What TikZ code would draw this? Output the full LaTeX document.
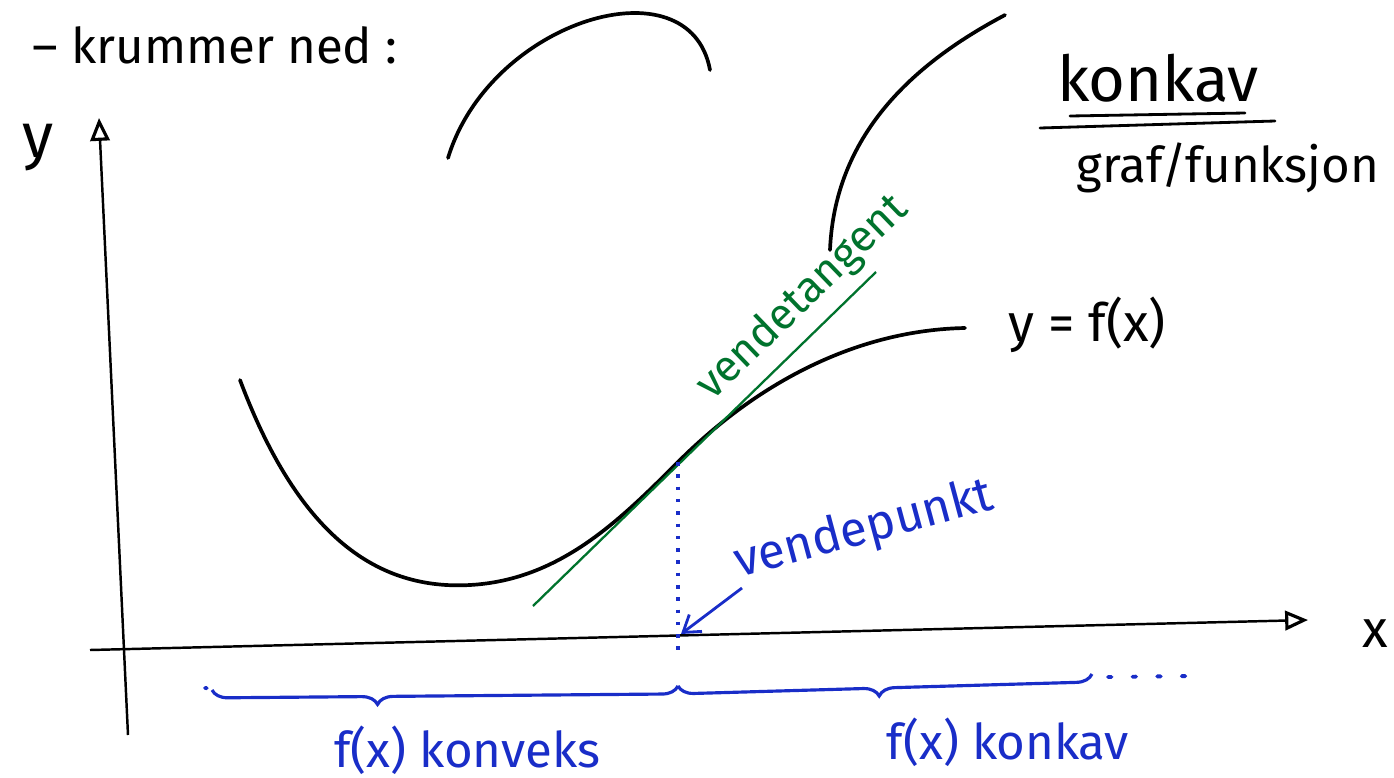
\documentclass[tikz,border=0pt]{standalone}
\usepackage{fontspec}
\setmainfont{Fira Sans}
\usetikzlibrary{arrows.meta,decorations.pathreplacing,calc}
\definecolor{penblue}{RGB}{25,45,200}
\definecolor{pengreen}{RGB}{0,115,45}
\begin{document}
\begin{tikzpicture}[x=0.02cm,y=-0.02cm,
  hand/.style={font=\fontsize{28}{32}\selectfont, inner sep=0pt},
  curve/.style={line width=2.1pt, line cap=round},
  axis/.style={line width=1.4pt, -{Triangle[open,length=13pt,width=11pt,line width=1.8pt]}},
  bluetext/.style={hand, text=penblue},
  greentext/.style={hand, text=pengreen},
  bracestyle/.style={penblue, line width=1.8pt, decorate}]
\useasboundingbox (0,0) rectangle (1394,778);
\fill[white] (0,0) rectangle (1394,778);

% texts
\node[hand] (title) at (215,45) {– krummer ned :};
\node[hand, font=\fontsize{36}{40}\selectfont] (ylab) at (38,148) {y};
\node[hand, font=\fontsize{30}{34}\selectfont] (xlab) at (1375,634) {x};
\node[hand, font=\fontsize{36}{40}\selectfont] (konkav) at (1158,78) {konkav};
\node[hand] (graf) at (1228,168) {graf/funksjon};
\node[hand, font=\fontsize{30}{34}\selectfont] (fx) at (1087,325) {y = f(x)};

% double underline
\coordinate (u1a) at (1070,116); \coordinate (u1b) at (1245,113);
\coordinate (u2a) at (1040,128); \coordinate (u2b) at (1275,121);
\draw[line width=1.6pt, line cap=round] (u1a) -- (u1b);
\draw[line width=1.6pt, line cap=round] (u2a) -- (u2b);

% axes
\coordinate (yb) at (128,735); \coordinate (yt) at (99,118);
\coordinate (xl) at (90,650); \coordinate (xr) at (1308,620);
\draw[axis] (yb) -- (yt);
\draw[axis] (xl) -- (xr);

% sample concave arcs
\draw[curve] (448,158) .. controls (490,20) and (690,-40) .. (710,70);
\draw[curve] (830,250) .. controls (835,130) and (920,60) .. (1005,15);

% main curve
\coordinate (infl) at (678,462);
\draw[curve] (240,380) .. controls (300,540) and (380,590) .. (470,585)
  .. controls (560,580) and (620,520) .. (infl)
  .. controls (760,380) and (860,330) .. (965,328);

% tangent
\coordinate (ta) at (533,606); \coordinate (tb) at (876,272);
\draw[pengreen, line width=1.3pt] (ta) -- (tb);
\node[greentext, rotate=44, anchor=base west, font=\fontsize{25}{30}\selectfont] (vt) at (712,402) {vendetangent};

% inflection marker
\coordinate (foot) at (678,650);
\draw[penblue, line width=2.2pt, dash pattern=on 2pt off 5pt] (infl) -- (foot);
\node[bluetext, rotate=15, anchor=south west] (vp) at (742,588) {vendepunkt};
\coordinate (arrowtip) at (681,634);
\draw[penblue, line width=1.6pt, -{Straight Barb[length=9pt,width=12pt]}] (vp.south west) -- (arrowtip);

% braces
\coordinate (b0) at (212,690); \coordinate (bm) at (678,686); \coordinate (b1) at (1092,674);
\draw[bracestyle, decoration={brace, mirror, amplitude=9pt, aspect=0.355}] (b0) -- (bm);
\draw[bracestyle, decoration={brace, mirror, amplitude=9pt, aspect=0.485}] (bm) -- (b1);
\coordinate (d0) at (205,688); \coordinate (d1) at (222,689);
\coordinate (d2) at (1108,677); \coordinate (d3) at (1192,676);
\draw[penblue, line width=2.2pt, dash pattern=on 2pt off 12pt, line cap=round] (d2) -- (d3);
\draw[penblue, line width=2.2pt, dash pattern=on 1pt off 14pt, line cap=round] (d0) -- (d1);
\node[bluetext] (konv) at (467,750) {f(x) konveks};
\node[bluetext] (konk) at (1008,742) {f(x) konkav};
\end{tikzpicture}
\end{document}
